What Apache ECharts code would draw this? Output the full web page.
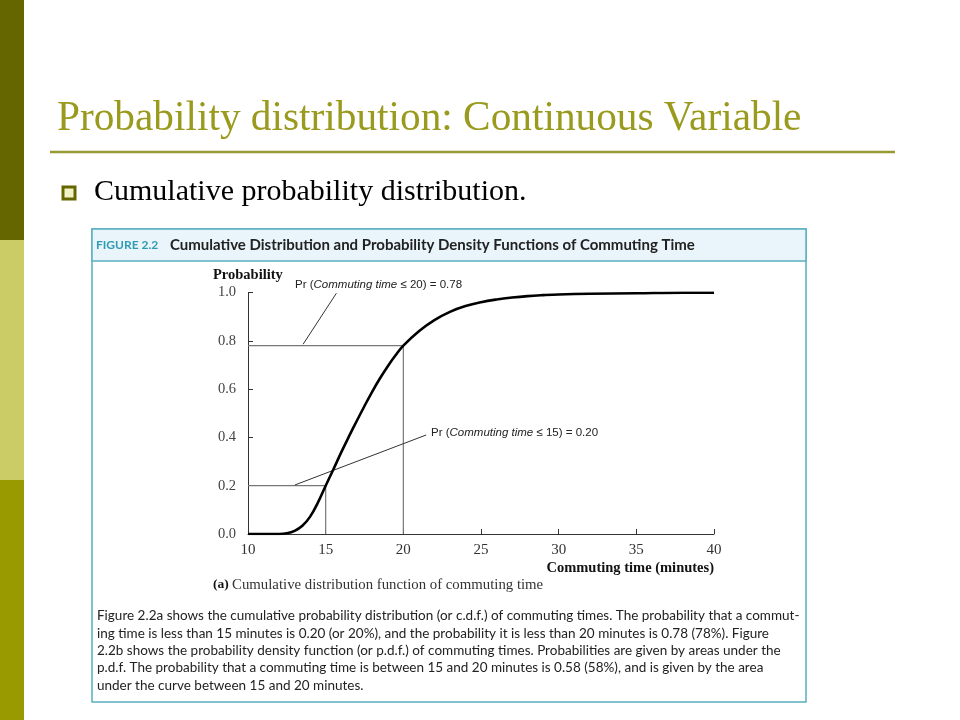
<!DOCTYPE html>
<html><head><meta charset="utf-8">
<script src="https://cdn.jsdelivr.net/npm/echarts@6/dist/echarts.min.js"></script>
<style>html,body{margin:0;padding:0;background:#fff}#c{width:960px;height:720px}</style>
</head><body><div id="c"></div>
<script>
// ---- data ----
const cdfX = [10, 11, 12, 12.5, 13, 13.5, 14, 14.5, 15, 15.5, 16, 16.5, 17, 17.5, 18, 18.5, 19, 19.5, 20, 21, 22, 23, 24, 25, 26, 27, 28, 29, 30, 32, 35, 38, 40];
const cdfY = [0, 0, 0, 0.003, 0.013, 0.034, 0.072, 0.13, 0.20, 0.268, 0.338, 0.404, 0.468, 0.53, 0.59, 0.645, 0.695, 0.74, 0.78, 0.84, 0.886, 0.92, 0.944, 0.96, 0.971, 0.979, 0.985, 0.989, 0.992, 0.995, 0.997, 0.999, 0.999];
const guide20 = [[10, 0.78], [20, 0.78], [20, 0]];
const guide15 = [[10, 0.20], [15, 0.20], [15, 0]];
const leader20 = [[15.69, 0.997], [13.55, 0.786]];
const leader15 = [[21.47, 0.41], [13.02, 0.203]];
const xTicks = [10, 15, 20, 25, 30, 35, 40];
const yTicks = [0.0, 0.2, 0.4, 0.6, 0.8, 1.0];
const slideTitle = 'Probability distribution: Continuous Variable';
const bulletText = 'Cumulative probability distribution.';
const figNum = 'FIGURE 2.2';
const figTitle = 'Cumulative Distribution and Probability Density Functions of Commuting Time';
const yName = 'Probability';
const xName = 'Commuting time (minutes)';
const subCaption = 'Cumulative distribution function of commuting time';
const note20 = ['Pr (', 'Commuting time', ' \u2264 20) = 0.78'];
const note15 = ['Pr (', 'Commuting time', ' \u2264 15) = 0.20'];
const captionLines = [
  'Figure 2.2a shows the cumulative probability distribution (or c.d.f.) of commuting times. The probability that a commut-',
  'ing time is less than 15 minutes is 0.20 (or 20%), and the probability it is less than 20 minutes is 0.78 (78%). Figure',
  '2.2b shows the probability density function (or p.d.f.) of commuting times. Probabilities are given by areas under the',
  'p.d.f. The probability that a commuting time is between 15 and 20 minutes is 0.58 (58%), and is given by the area',
  'under the curve between 15 and 20 minutes.'
];

// ---- chart ----
const chart = echarts.init(document.getElementById('c'), null, {renderer: 'canvas'});
const serif = '"Liberation Serif", "DejaVu Serif", serif';
const sans = 'Lato, "Open Sans", sans-serif';
const narrow = '"Liberation Sans Narrow", "Liberation Sans", sans-serif';
const teal = '#5aafc0';

const graphics = [
  {type: 'rect', shape: {x: 0, y: 0, width: 24, height: 240}, style: {fill: '#666600'}},
  {type: 'rect', shape: {x: 0, y: 240, width: 24, height: 240}, style: {fill: '#cccc66'}},
  {type: 'rect', shape: {x: 0, y: 480, width: 24, height: 240}, style: {fill: '#999900'}},
  {type: 'text', x: 57, y: 119, style: {text: slideTitle, font: '41.3px ' + serif, fill: '#9a9a1e', verticalAlign: 'middle'}},
  {type: 'line', shape: {x1: 50, y1: 152, x2: 895, y2: 152}, style: {stroke: '#999933', lineWidth: 2.5}},
  {type: 'rect', shape: {x: 63, y: 187, width: 12, height: 12}, style: {fill: '#f2f2c8', stroke: '#666600', lineWidth: 3}},
  {type: 'text', x: 94, y: 192, style: {text: bulletText, font: '30px ' + serif, fill: '#000', verticalAlign: 'middle'}},
  {type: 'rect', shape: {x: 92, y: 229, width: 714, height: 473}, style: {fill: 'transparent', stroke: teal, lineWidth: 1.5}},
  {type: 'rect', shape: {x: 92, y: 229, width: 714, height: 32}, style: {fill: '#e9f5fa', stroke: teal, lineWidth: 1.5}},
  {type: 'text', x: 96, y: 245, style: {text: figNum, font: 'bold 12px ' + sans, fill: '#2e9cb2', verticalAlign: 'middle'}},
  {type: 'text', x: 170, y: 245, style: {text: figTitle, font: 'bold 15px ' + sans, fill: '#222', verticalAlign: 'middle'}},
  {type: 'text', x: 213, y: 275, style: {text: yName, font: 'bold 14.5px ' + serif, fill: '#111', verticalAlign: 'middle'}},
  {type: 'text', x: 714, y: 568, style: {text: xName, font: 'bold 14.5px ' + serif, fill: '#111', align: 'right', verticalAlign: 'middle'}},
  {type: 'text', x: 213, y: 585, style: {
    text: '{b|(a)} {n|' + subCaption + '}', verticalAlign: 'middle',
    rich: {b: {font: 'bold 13.5px ' + serif, fill: '#111'}, n: {font: '14.8px ' + serif, fill: '#333'}}
  }},
  {type: 'text', x: 295, y: 285, style: {
    text: '{n|' + note20[0] + '}{i|' + note20[1] + '}{n|' + note20[2] + '}', verticalAlign: 'middle',
    rich: {n: {font: '11.5px ' + narrow, fill: '#222'}, i: {font: 'italic 11.5px ' + narrow, fill: '#222'}}
  }},
  {type: 'text', x: 431, y: 433, style: {
    text: '{n|' + note15[0] + '}{i|' + note15[1] + '}{n|' + note15[2] + '}', verticalAlign: 'middle',
    rich: {n: {font: '11.5px ' + narrow, fill: '#222'}, i: {font: 'italic 11.5px ' + narrow, fill: '#222'}}
  }}
];
captionLines.forEach((t, i) => {
  graphics.push({type: 'text', x: 97, y: 616 + i * 17.3, style: {text: t, font: '13.5px ' + sans, fill: '#222', verticalAlign: 'middle'}});
});

chart.setOption({
  animation: false,
  backgroundColor: '#fff',
  graphic: {elements: graphics},
  grid: {left: 248, right: 246, top: 292.5, bottom: 186, containLabel: false},
  xAxis: {
    type: 'value', min: xTicks[0], max: xTicks[xTicks.length - 1], interval: 5,
    axisLine: {lineStyle: {color: '#333', width: 1}},
    axisTick: {inside: true, length: 5, lineStyle: {color: '#333'}},
    splitLine: {show: false},
    axisLabel: {margin: 9, color: '#333', fontFamily: serif, fontSize: 15}
  },
  yAxis: {
    type: 'value', min: yTicks[0], max: yTicks[yTicks.length - 1], interval: 0.2,
    axisLine: {show: true, lineStyle: {color: '#333', width: 1}},
    axisTick: {show: true, inside: true, length: 5, lineStyle: {color: '#333'}},
    splitLine: {show: false},
    axisLabel: {margin: 12, color: '#444', fontFamily: serif, fontSize: 14.5, formatter: v => v.toFixed(1)}
  },
  series: [
    {type: 'line', data: guide20, showSymbol: false, lineStyle: {color: '#777', width: 1.2}, silent: true},
    {type: 'line', data: guide15, showSymbol: false, lineStyle: {color: '#777', width: 1.2}, silent: true},
    {type: 'line', data: leader20, showSymbol: false, lineStyle: {color: '#333', width: 1}, silent: true},
    {type: 'line', data: leader15, showSymbol: false, lineStyle: {color: '#333', width: 1}, silent: true},
    {type: 'line', data: cdfX.map((x, i) => [x, cdfY[i]]), showSymbol: false, smooth: 0.4,
     lineStyle: {color: '#000', width: 2.6, join: 'round'}, silent: true}
  ]
});
</script></body></html>
